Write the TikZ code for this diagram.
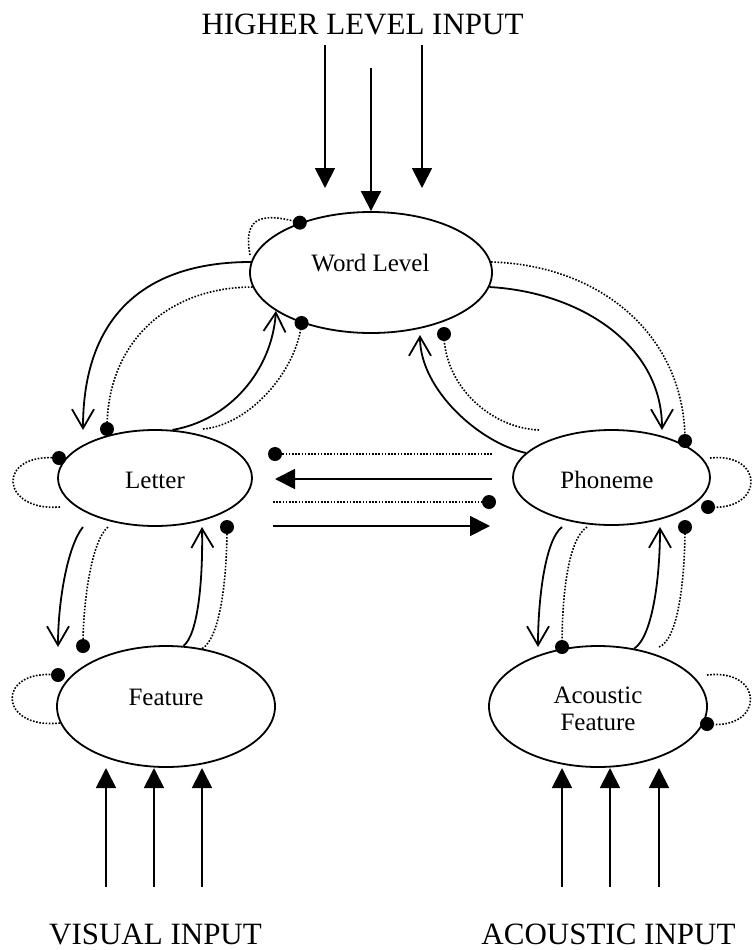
\documentclass[tikz,border=0pt]{standalone}
\usepackage{fontspec}
\setmainfont{Liberation Serif}
\usetikzlibrary{arrows.meta,shapes.geometric}
\begin{document}
\begin{tikzpicture}[x=1pt,y=-1pt,
  lvl/.style={draw, ellipse, line width=1.8pt, inner sep=0pt},
  txt/.style={font=\fontsize{25}{27}\selectfont, inner sep=0pt, align=center},
  captxt/.style={font=\fontsize{31}{34}\selectfont, inner sep=0pt},
  exc/.style={line width=1.8pt, -{Straight Barb[length=19pt,width=22pt]}},
  inh/.style={line width=1.6pt, dash pattern=on 1.6pt off 1.6pt},
  inp/.style={line width=1.8pt, -{Triangle[length=20pt,width=20pt]}},
  dotc/.style={fill=black}
]
\useasboundingbox (0,0) rectangle (752,950);

% level nodes
\node[lvl, minimum width=242pt, minimum height=121pt] (W) at (371,272.5) {};
\node[lvl, minimum width=194pt, minimum height=96pt] (L) at (155,478) {};
\node[lvl, minimum width=197pt, minimum height=95pt] (P) at (611.5,477.5) {};
\node[lvl, minimum width=218pt, minimum height=121pt] (F) at (166,706.5) {};
\node[lvl, minimum width=218pt, minimum height=121pt] (AF) at (598,706.5) {};

% texts
\node[txt] (tW) at (370.5,263) {Word Level};
\node[txt] (tL) at (155,480) {Letter};
\node[txt] (tP) at (607,480) {Phoneme};
\node[txt] (tF) at (166,697.5) {Feature};
\node[txt] (tA) at (598,708.5) {Acoustic\\Feature};

\node[captxt] (hi) at (362.5,24) {HIGHER LEVEL INPUT};
\node[captxt] (vi) at (155.5,934) {VISUAL INPUT};
\node[captxt] (ai) at (608.5,934) {ACOUSTIC INPUT};

% free coordinates
\coordinate (hl) at (325,45);  \coordinate (hle) at (325,188);
\coordinate (hm) at (371,68);
\coordinate (hr) at (422,45);  \coordinate (hre) at (422,188);
\coordinate (v1) at (106,887); \coordinate (v1e) at (106,768);
\coordinate (v2) at (154,887); \coordinate (v2e) at (154,768);
\coordinate (v3) at (202,887); \coordinate (v3e) at (202,768);
\coordinate (a1) at (562,887); \coordinate (a1e) at (562,768);
\coordinate (a2) at (610,887); \coordinate (a2e) at (610,768);
\coordinate (a3) at (659,887); \coordinate (a3e) at (659,768);

\coordinate (tL1) at (83,430);
\coordinate (dL1) at (107,429);
\coordinate (sL2) at (203,429);
\coordinate (dW1) at (W.216);
\coordinate (wl) at (250,255);
\coordinate (dW0) at (W.145);
\coordinate (tP1) at (662,430);
\coordinate (dP1) at (685,441);
\coordinate (tW2) at (420,335);
\coordinate (sP2) at (539,430);
\coordinate (dW2) at (444,334);
\coordinate (sL3) at (83,527);
\coordinate (tF1) at (58,647);
\coordinate (sL4) at (108,527);
\coordinate (dF1) at (83,646);
\coordinate (tL2) at (202,527);
\coordinate (dL2) at (227,527);
\coordinate (lp) at (60,507);
\coordinate (dLl) at (59,458);
\coordinate (fp) at (60,723);
\coordinate (dFl) at (58,675);
\coordinate (sP3) at (562,527);
\coordinate (tA1) at (538,647);
\coordinate (sP4) at (587,527);
\coordinate (dA1) at (562,647);
\coordinate (tP2) at (660,527);
\coordinate (sA2) at (659,647);
\coordinate (dP2) at (685,527);
\coordinate (pp) at (710,458);
\coordinate (dPl) at (708,507);
\coordinate (ap) at (707,675);
\coordinate (dAl) at (707,724);
\coordinate (h1s) at (492,454); \coordinate (dh1) at (275,454);
\coordinate (h2s) at (492,479); \coordinate (h2e) at (275,479);
\coordinate (h3s) at (273,502); \coordinate (dh3) at (489,502);
\coordinate (h4s) at (273,526); \coordinate (h4e) at (490,526);

% input arrows
\draw[inp] (hl) -- (hle);
\draw[inp] (hm) -- (W.north);
\draw[inp] (hr) -- (hre);
\draw[inp] (v1) -- (v1e);
\draw[inp] (v2) -- (v2e);
\draw[inp] (v3) -- (v3e);
\draw[inp] (a1) -- (a1e);
\draw[inp] (a2) -- (a2e);
\draw[inp] (a3) -- (a3e);

% word <-> letter
\draw[exc] (W.175) .. controls (141,262) and (83,320) .. (tL1);
\draw[inh] (W.187) .. controls (170,287) and (107,340) .. (dL1);
\draw[exc] (L.70) .. controls (230,420) and (272,370) .. (W.202);
\draw[inh] (sL2) .. controls (250,425) and (297,370) .. (dW1);
\draw[inh] (wl) .. controls (244,222) and (255,210) .. (dW0);

% word <-> phoneme
\draw[exc] (W.-7) .. controls (580,292) and (662,345) .. (tP1);
\draw[inh] (W.5) .. controls (600,265) and (685,335) .. (dP1);
\draw[exc] (P.164) .. controls (480,443) and (420,390) .. (tW2);
\draw[inh] (sP2) .. controls (490,428) and (444,385) .. (dW2);

% letter <-> feature
\draw[exc] (sL3) .. controls (68,545) and (58,600) .. (tF1);
\draw[inh] (sL4) .. controls (92,540) and (83,600) .. (dF1);
\draw[exc] (F.74) .. controls (198,635) and (203,580) .. (tL2);
\draw[inh] (F.58) .. controls (220,638) and (227,580) .. (dL2);

% phoneme <-> acoustic feature
\draw[exc] (sP3) .. controls (545,540) and (538,600) .. (tA1);
\draw[inh] (sP4) .. controls (567,540) and (562,600) .. (dA1);
\draw[exc] (AF.58) .. controls (652,637) and (660,580) .. (tP2);
\draw[inh] (sA2) .. controls (678,640) and (685,580) .. (dP2);

% self loops
\draw[inh] (lp) .. controls (0,512) and (-5,452) .. (dLl);
\draw[inh] (fp) .. controls (-2,730) and (-5,668) .. (dFl);
\draw[inh] (pp) .. controls (765,452) and (765,512) .. (dPl);
\draw[inh] (ap) .. controls (765,668) and (765,731) .. (dAl);

% letter <-> phoneme
\draw[inh] (h1s) -- (dh1);
\draw[inp] (h2s) -- (h2e);
\draw[inh] (h3s) -- (dh3);
\draw[inp] (h4s) -- (h4e);

% inhibitory dots
\foreach \d in {dL1,dW1,dW0,dP1,dW2,dF1,dL2,dA1,dP2,dLl,dFl,dPl,dAl,dh1,dh3}
  \fill[dotc] (\d) circle[radius=7pt];
\end{tikzpicture}
\end{document}
